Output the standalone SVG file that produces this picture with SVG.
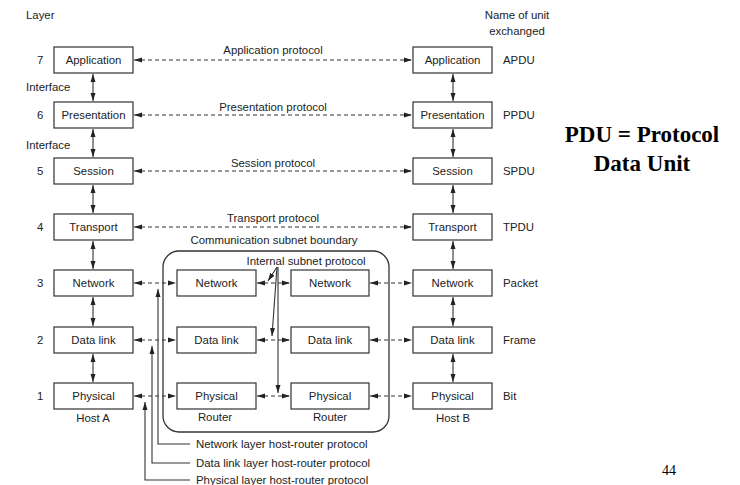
<svg xmlns="http://www.w3.org/2000/svg" width="740" height="485" viewBox="0 0 740 485">
<defs>
<marker id="ah" markerWidth="8" markerHeight="6" refX="8" refY="3" orient="auto-start-reverse" markerUnits="userSpaceOnUse"><path d="M0,0.5 L8,3 L0,5.5 z" fill="#222"/></marker>
<style>
.box{fill:#fff;stroke:#333;stroke-width:1.2}
.t{font-family:"Liberation Sans",Arial,sans-serif;font-size:11.4px;fill:#222}
.m{text-anchor:middle}
.d{stroke:#333;stroke-width:1;stroke-dasharray:4,3;fill:none}
.s{stroke:#333;stroke-width:1.1;fill:none}
.big{font-family:"Liberation Serif","Times New Roman",serif;font-weight:bold;font-size:23px;fill:#000;text-anchor:middle}
</style>
</defs>
<rect width="740" height="485" fill="#fff"/>
<g id="labels">
<text class="t" x="26" y="19">Layer</text>
<text class="t m" x="517" y="19">Name of unit</text>
<text class="t m" x="517" y="35">exchanged</text>
<text class="t" x="26" y="91">Interface</text>
<text class="t" x="26" y="149">Interface</text>
<text class="t" x="37" y="64">7</text>
<text class="t" x="37" y="119">6</text>
<text class="t" x="37" y="175">5</text>
<text class="t" x="37" y="231">4</text>
<text class="t" x="37" y="287">3</text>
<text class="t" x="37" y="344">2</text>
<text class="t" x="37" y="400">1</text>
<text class="t" x="503" y="64">APDU</text>
<text class="t" x="503" y="119">PPDU</text>
<text class="t" x="503" y="175">SPDU</text>
<text class="t" x="503" y="231">TPDU</text>
<text class="t" x="503" y="287">Packet</text>
<text class="t" x="503" y="344">Frame</text>
<text class="t" x="503" y="400">Bit</text>
<text class="t m" x="273" y="54">Application protocol</text>
<text class="t m" x="273" y="111">Presentation protocol</text>
<text class="t m" x="273" y="167">Session protocol</text>
<text class="t m" x="273" y="222">Transport protocol</text>
<text class="t m" x="274" y="244">Communication subnet boundary</text>
<text class="t m" x="306" y="265">Internal subnet protocol</text>
<text class="t m" x="93" y="422">Host A</text>
<text class="t m" x="453" y="422">Host B</text>
<text class="t m" x="215" y="421">Router</text>
<text class="t m" x="330" y="421">Router</text>
<text class="t" x="196" y="448">Network layer host-router protocol</text>
<text class="t" x="196" y="467">Data link layer host-router protocol</text>
<text class="t" x="196" y="484">Physical layer host-router protocol</text>
<text class="big" x="642" y="142">PDU = Protocol</text>
<text class="big" x="642" y="171">Data Unit</text>
<text x="662" y="475" font-family="Liberation Serif, Times New Roman, serif" font-size="14" fill="#000">44</text>
</g>
<g id="subnet"><rect x="163" y="251" width="226" height="181" rx="16" fill="none" stroke="#333" stroke-width="1.3"/></g>
<g id="hostA">
<rect class="box" x="54" y="47" width="79" height="26"/><text class="t m" x="93.5" y="64">Application</text>
<rect class="box" x="54" y="102" width="79" height="26"/><text class="t m" x="93.5" y="119">Presentation</text>
<rect class="box" x="54" y="158" width="79" height="26"/><text class="t m" x="93.5" y="175">Session</text>
<rect class="box" x="54" y="214" width="79" height="26"/><text class="t m" x="93.5" y="231">Transport</text>
<rect class="box" x="54" y="270" width="79" height="26"/><text class="t m" x="93.5" y="287">Network</text>
<rect class="box" x="54" y="327" width="79" height="26"/><text class="t m" x="93.5" y="344">Data link</text>
<rect class="box" x="54" y="383" width="79" height="26"/><text class="t m" x="93.5" y="400">Physical</text>
</g>
<g id="hostB">
<rect class="box" x="413" y="47" width="79" height="26"/><text class="t m" x="452.5" y="64">Application</text>
<rect class="box" x="413" y="102" width="79" height="26"/><text class="t m" x="452.5" y="119">Presentation</text>
<rect class="box" x="413" y="158" width="79" height="26"/><text class="t m" x="452.5" y="175">Session</text>
<rect class="box" x="413" y="214" width="79" height="26"/><text class="t m" x="452.5" y="231">Transport</text>
<rect class="box" x="413" y="270" width="79" height="26"/><text class="t m" x="452.5" y="287">Network</text>
<rect class="box" x="413" y="327" width="79" height="26"/><text class="t m" x="452.5" y="344">Data link</text>
<rect class="box" x="413" y="383" width="79" height="26"/><text class="t m" x="452.5" y="400">Physical</text>
</g>
<g id="router1">
<rect class="box" x="177" y="270" width="79" height="26"/><text class="t m" x="216.5" y="287">Network</text>
<rect class="box" x="177" y="327" width="79" height="26"/><text class="t m" x="216.5" y="344">Data link</text>
<rect class="box" x="177" y="383" width="79" height="26"/><text class="t m" x="216.5" y="400">Physical</text>
</g>
<g id="router2">
<rect class="box" x="291" y="270" width="78" height="26"/><text class="t m" x="330" y="287">Network</text>
<rect class="box" x="291" y="327" width="78" height="26"/><text class="t m" x="330" y="344">Data link</text>
<rect class="box" x="291" y="383" width="78" height="26"/><text class="t m" x="330" y="400">Physical</text>
</g>
<g id="connectors">
<line class="d" x1="134" y1="60" x2="412" y2="60" marker-start="url(#ah)" marker-end="url(#ah)"/>
<line class="d" x1="134" y1="115" x2="412" y2="115" marker-start="url(#ah)" marker-end="url(#ah)"/>
<line class="d" x1="134" y1="171" x2="412" y2="171" marker-start="url(#ah)" marker-end="url(#ah)"/>
<line class="d" x1="134" y1="227" x2="412" y2="227" marker-start="url(#ah)" marker-end="url(#ah)"/>
<line class="d" x1="134" y1="283" x2="176" y2="283" marker-start="url(#ah)" marker-end="url(#ah)"/>
<line class="d" x1="257" y1="283" x2="290" y2="283" marker-start="url(#ah)" marker-end="url(#ah)"/>
<line class="d" x1="370" y1="283" x2="412" y2="283" marker-start="url(#ah)" marker-end="url(#ah)"/>
<line class="d" x1="134" y1="340" x2="176" y2="340" marker-start="url(#ah)" marker-end="url(#ah)"/>
<line class="d" x1="257" y1="340" x2="290" y2="340" marker-start="url(#ah)" marker-end="url(#ah)"/>
<line class="d" x1="370" y1="340" x2="412" y2="340" marker-start="url(#ah)" marker-end="url(#ah)"/>
<line class="d" x1="134" y1="396" x2="176" y2="396" marker-start="url(#ah)" marker-end="url(#ah)"/>
<line class="d" x1="257" y1="396" x2="290" y2="396" marker-start="url(#ah)" marker-end="url(#ah)"/>
<line class="d" x1="370" y1="396" x2="412" y2="396" marker-start="url(#ah)" marker-end="url(#ah)"/>
<line class="s" x1="93" y1="74" x2="93" y2="101" marker-start="url(#ah)" marker-end="url(#ah)"/>
<line class="s" x1="93" y1="129" x2="93" y2="157" marker-start="url(#ah)" marker-end="url(#ah)"/>
<line class="s" x1="93" y1="185" x2="93" y2="213" marker-start="url(#ah)" marker-end="url(#ah)"/>
<line class="s" x1="93" y1="241" x2="93" y2="269" marker-start="url(#ah)" marker-end="url(#ah)"/>
<line class="s" x1="93" y1="297" x2="93" y2="326" marker-start="url(#ah)" marker-end="url(#ah)"/>
<line class="s" x1="93" y1="354" x2="93" y2="382" marker-start="url(#ah)" marker-end="url(#ah)"/>
<line class="s" x1="453" y1="74" x2="453" y2="101" marker-start="url(#ah)" marker-end="url(#ah)"/>
<line class="s" x1="453" y1="129" x2="453" y2="157" marker-start="url(#ah)" marker-end="url(#ah)"/>
<line class="s" x1="453" y1="185" x2="453" y2="213" marker-start="url(#ah)" marker-end="url(#ah)"/>
<line class="s" x1="453" y1="241" x2="453" y2="269" marker-start="url(#ah)" marker-end="url(#ah)"/>
<line class="s" x1="453" y1="297" x2="453" y2="326" marker-start="url(#ah)" marker-end="url(#ah)"/>
<line class="s" x1="453" y1="354" x2="453" y2="382" marker-start="url(#ah)" marker-end="url(#ah)"/>
<line class="s" x1="277" y1="267" x2="268" y2="281" marker-end="url(#ah)"/>
<line class="s" x1="277" y1="267" x2="272" y2="336" marker-end="url(#ah)"/>
<line class="s" x1="278" y1="267" x2="278" y2="393" marker-end="url(#ah)"/>
<path class="s" d="M190,444 H158 V289" marker-end="url(#ah)"/>
<path class="s" d="M190,463 H152 V346" marker-end="url(#ah)"/>
<path class="s" d="M190,480 H145 V402" marker-end="url(#ah)"/>
</g>
</svg>
